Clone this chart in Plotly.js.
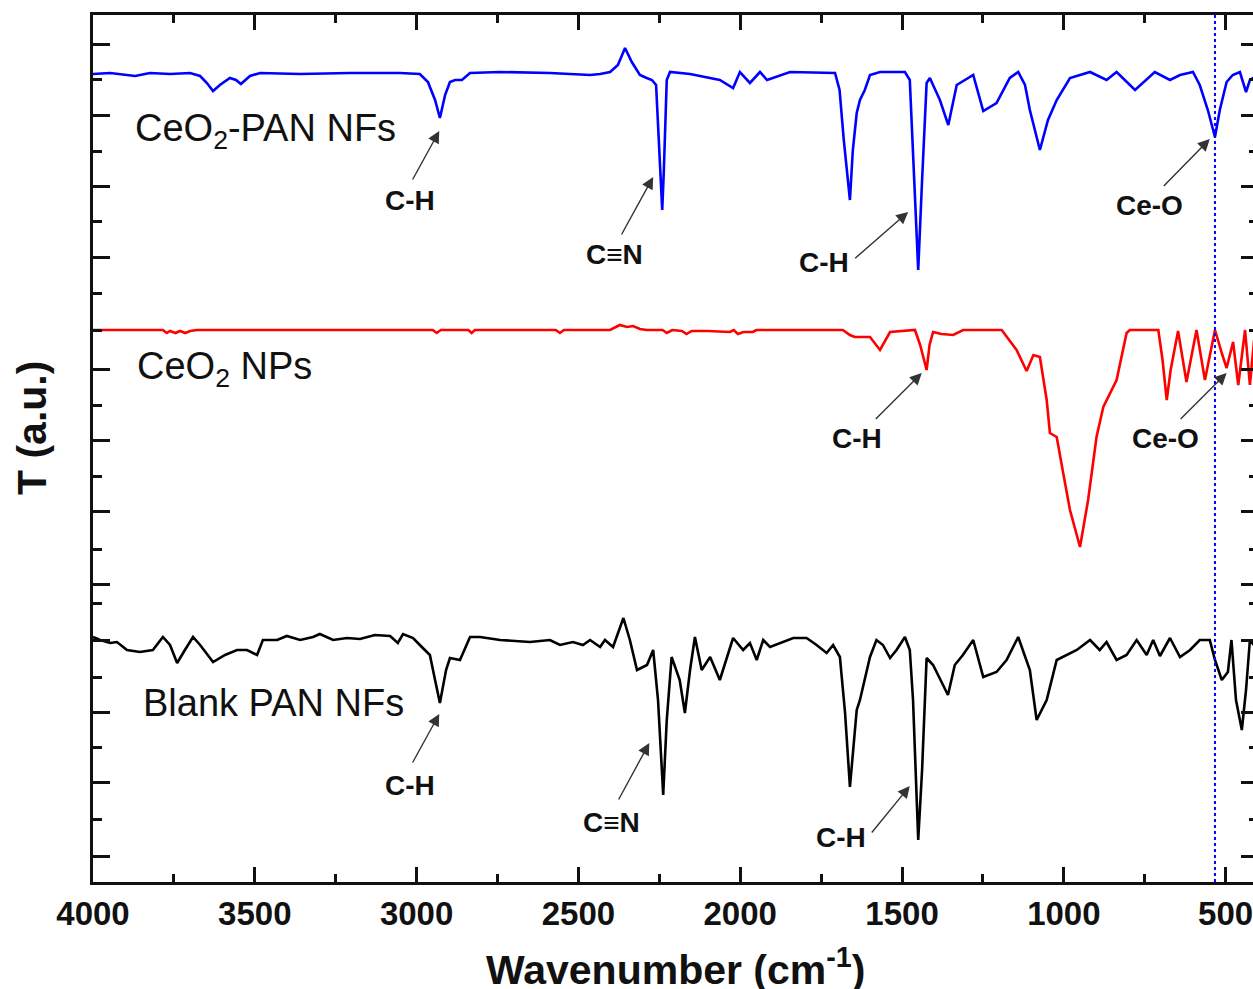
<!DOCTYPE html>
<html>
<head>
<meta charset="utf-8">
<script src="https://cdn.plot.ly/plotly-3.0.1.min.js"></script>
<style>
html, body { margin: 0; padding: 0; overflow: hidden; background: #fff; }
#chart { width: 1270px; height: 989px; }
</style>
</head>
<body>
<div id="chart"></div>
<script>
// ---- Data (wavenumber in cm-1, transmittance in a.u. with stacking offsets) ----
const blueWn = [4000,3947,3870,3824,3762,3700,3669,3648,3629,3608,3577,3558,3543,3515,3484,3360,3206,3051,2990,2965,2943,2928,2912,2897,2881,2860,2835,2742,2588,2464,2433,2402,2378,2356,2335,2310,2289,2273,2260,2251,2241,2236,2227,2217,2155,2063,2022,2001,1970,1939,1917,1846,1707,1693,1680,1661,1652,1640,1630,1615,1599,1568,1491,1476,1466,1450,1438,1424,1414,1383,1357,1331,1280,1249,1208,1167,1141,1120,1105,1074,1049,1022,981,919,868,837,780,719,672,641,601,580,555,533,518,497,478,456,437,425,400];
const blueT  = [808,809,806,809,808,809,806,799,791,797,804,802,798,806,809,808,809,809,808,800,782,764,787,800,802,802,809,810,809,807,808,810,817,834,820,807,804,802,797,732,672,712,802,810,808,802,794,810,799,810,802,810,809,792,742,682,732,769,782,792,807,810,810,802,732,612,702,799,804,782,757,797,807,771,779,804,810,797,772,732,762,782,804,810,802,810,792,810,802,807,810,797,772,745,772,800,807,810,790,802,807];

const redWn = [4000,3784,3772,3762,3745,3731,3715,3700,3679,2950,2938,2925,2840,2830,2820,2570,2557,2545,2402,2385,2372,2350,2331,2310,2289,2240,2227,2210,2180,2166,2150,2124,2100,2032,2020,2007,1990,1961,1950,1683,1661,1646,1599,1568,1537,1460,1444,1424,1415,1404,1378,1342,1311,1192,1146,1115,1094,1074,1053,1043,1022,1002,981,950,925,899,878,837,806,796,708,695,682,670,647,621,590,564,533,510,497,477,461,440,425,412,400];
const redT  = [552,552,549,551,549,551,549,551,552,552,549,552,552,549,552,552,549,552,552,555,557,555,556,553,552,552,549,552,551,548,551,551,551,550,552,548,550,550,552,552,547,545,545,532,550,552,537,512,537,550,548,547,552,552,532,511,527,525,482,449,445,409,372,335,382,445,475,502,549,552,552,522,482,512,551,500,552,502,552,527,514,540,497,552,497,542,522];

const blackWn = [4000,3978,3947,3926,3895,3855,3815,3784,3762,3740,3716,3691,3669,3629,3592,3555,3524,3493,3475,3431,3401,3360,3320,3299,3258,3215,3175,3129,3082,3058,3042,3011,2990,2959,2943,2928,2909,2897,2866,2835,2804,2742,2650,2588,2557,2517,2486,2464,2433,2418,2393,2361,2341,2319,2288,2269,2254,2238,2227,2212,2187,2171,2155,2140,2119,2093,2063,2022,1991,1970,1949,1929,1908,1877,1836,1795,1764,1733,1713,1692,1676,1661,1640,1630,1599,1579,1559,1537,1517,1491,1476,1466,1450,1438,1424,1404,1358,1337,1312,1280,1249,1208,1177,1141,1105,1084,1053,1022,991,960,919,889,868,837,806,775,744,724,703,672,641,610,580,549,533,512,493,482,468,450,437,425,400];
const blackT  = [245,242,239,240,232,230,232,245,237,219,232,245,237,220,227,232,232,227,242,242,246,242,245,248,242,244,243,247,246,239,248,244,237,227,202,179,212,224,222,245,245,242,240,242,237,240,237,242,235,242,235,264,242,212,217,232,182,87,162,225,202,169,212,245,212,225,202,244,232,239,222,242,235,239,244,244,237,229,237,225,169,95,172,182,225,242,237,224,232,245,232,182,42,112,224,217,187,217,227,242,205,210,222,245,212,162,182,222,227,232,242,232,240,222,227,242,227,242,226,244,225,232,242,242,222,202,210,242,182,152,192,242,232];

const seriesNames = ["CeO<sub>2</sub>-PAN NFs", "CeO<sub>2</sub> NPs", "Blank PAN NFs"];
const xTickVals = [4000,3500,3000,2500,2000,1500,1000,500];
const xMinorVals = [3750,3250,2750,2250,1750,1250,750];
const yMajorVals = [838,767,696,625,513,442,371,298,242,170,100,26];
const yMinorVals = [803,731,661,589,552,477,406,333,279,205,135,63];
const ceoLine = 533;

// ---- Traces ----
const traces = [
  {x: blueWn, y: blueT, name: seriesNames[0], mode: 'lines', line: {color: '#0000ff', width: 2.6}},
  {x: redWn, y: redT, name: seriesNames[1], mode: 'lines', line: {color: '#ff0000', width: 2.6}},
  {x: blackWn, y: blackT, name: seriesNames[2], mode: 'lines', line: {color: '#000000', width: 2.6}}
];

const FONT = 'Liberation Sans, Arial, sans-serif';
const lab = (x, y, t) => ({x: x, y: y, xref: 'x', yref: 'y', text: '<b>' + t + '</b>', showarrow: false,
  font: {family: FONT, size: 28, color: '#111'}, xanchor: 'center', yanchor: 'middle'});
const arr = (x, y, ax, ay) => ({x: x, y: y, xref: 'x', yref: 'y', text: ' ', showarrow: true, ax: ax, ay: ay,
  arrowhead: 2, arrowsize: 1.7, arrowwidth: 1.4, arrowcolor: '#333', standoff: 0, startstandoff: 0,
  font: {size: 2}});
const nameLab = (x, y, t) => ({x: x, y: y, xref: 'x', yref: 'y', text: t, showarrow: false,
  font: {family: FONT, size: 38, color: '#111'}, xanchor: 'left', yanchor: 'middle'});

const annotations = [
  nameLab(3875, 751, seriesNames[0]),
  nameLab(3870, 513, seriesNames[1]),
  nameLab(3852, 179, seriesNames[2]),
  lab(3020, 682, 'C-H'), lab(2390, 628, 'C≡N'), lab(1741, 620, 'C-H'), lab(734, 677, 'Ce-O'),
  lab(1638, 444, 'C-H'), lab(685, 444, 'Ce-O'),
  lab(3020, 97, 'C-H'), lab(2398, 60, 'C≡N'), lab(1689, 45, 'C-H'),
  arr(2930, 751, -28, 51), arr(2269, 705, -33, 60), arr(1481, 670, -55, 48), arr(549, 743, -48, 49),
  arr(1439, 509, -48, 48), arr(497, 509, -48, 48),
  arr(2930, 168, -28, 51), arr(2281, 139, -32, 59), arr(1476, 96, -40, 49),
  {x: 0.5, y: -0.0985, xref: 'paper', yref: 'paper', showarrow: false, xanchor: 'center', yanchor: 'middle',
   text: '<b>Wavenumber (cm<sup>-1</sup>)</b>', font: {family: FONT, size: 41, color: '#111'}},
  {x: -0.0524, y: 0.5236, xref: 'paper', yref: 'paper', showarrow: false, xanchor: 'center', yanchor: 'middle',
   textangle: -90, text: '<b>T (a.u.)</b>', font: {family: FONT, size: 41, color: '#111'}}
];

const layout = {
  width: 1270, height: 989,
  margin: {l: 93, r: 12, t: 15, b: 107},
  paper_bgcolor: '#fff', plot_bgcolor: '#fff',
  showlegend: false,
  font: {family: FONT, color: '#111'},
  xaxis: {
    range: [4000, 400], showgrid: false, zeroline: false,
    showline: true, linecolor: '#111', linewidth: 3, mirror: 'ticks',
    ticks: 'inside', ticklen: 15, tickwidth: 3, tickcolor: '#111',
    tickmode: 'array', tickvals: xTickVals,
    tickfont: {family: FONT, size: 33, color: '#111', weight: 'bold'},
    minor: {tickmode: 'array', tickvals: xMinorVals, ticks: 'inside', ticklen: 8, tickwidth: 3, tickcolor: '#111', showgrid: false}
  },
  yaxis: {
    range: [0, 867], showgrid: false, zeroline: false,
    showline: true, linecolor: '#111', linewidth: 3, mirror: 'ticks',
    ticks: 'inside', ticklen: 17, tickwidth: 3, tickcolor: '#111',
    tickmode: 'array', tickvals: yMajorVals, showticklabels: false,
    minor: {tickmode: 'array', tickvals: yMinorVals, ticks: 'inside', ticklen: 9, tickwidth: 3, tickcolor: '#111', showgrid: false}
  },
  shapes: [
    {type: 'line', xref: 'x', yref: 'paper', x0: ceoLine, x1: ceoLine, y0: 0, y1: 1,
     line: {color: '#0000ff', width: 2, dash: 'dot'}}
  ],
  annotations: annotations
};

Plotly.newPlot('chart', traces, layout, {displayModeBar: false, staticPlot: true});
</script>
</body>
</html>
